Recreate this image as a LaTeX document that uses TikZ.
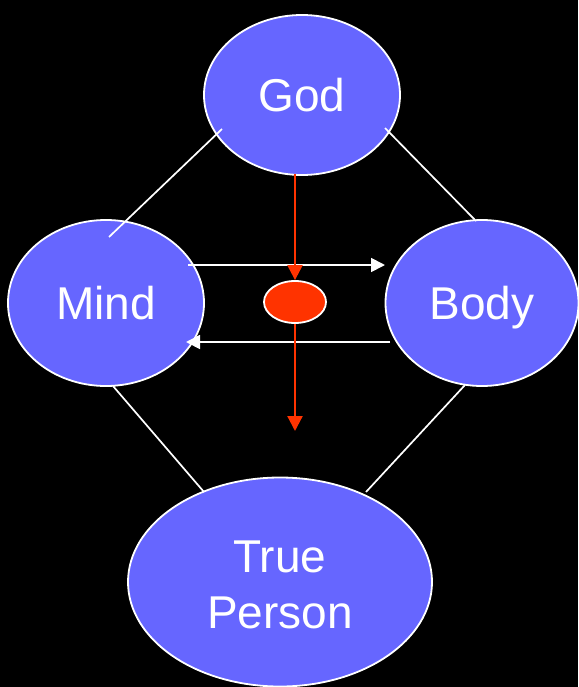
\documentclass[tikz,border=0pt]{standalone}
\usepackage{fontspec}
\setmainfont{Liberation Sans}
\usetikzlibrary{shapes.geometric,arrows.meta}
\definecolor{bluefill}{RGB}{102,102,255}
\definecolor{redfill}{RGB}{255,51,0}
\tikzset{
  bigell/.style={ellipse, draw=white, line width=1.8pt, fill=bluefill, inner sep=0pt,
    text=white, font=\fontsize{46}{56}\selectfont, align=center, text depth=0pt},
  redell/.style={ellipse, draw=white, line width=1.8pt, fill=redfill, inner sep=0pt,
    minimum width=62pt, minimum height=42pt},
  link/.style={draw=white, line width=1.7pt},
  warrow/.style={draw=white, line width=1.8pt, -{Triangle[length=14pt,width=14pt]}},
  rarrow/.style={draw=redfill, line width=2.2pt, -{Triangle[length=15pt,width=15pt]}}
}
\begin{document}
\begin{tikzpicture}[x=1pt,y=-1pt]
\fill[black] (0,0) rectangle (578,687);
\useasboundingbox (0,0) rectangle (578,687);
% connector coordinates
\coordinate (gm1) at (222,129);
\coordinate (gm2) at (109,237);
\coordinate (gb1) at (385,128);
\coordinate (gb2) at (476,221);
\coordinate (mt1) at (113,386);
\coordinate (mt2) at (204,492);
\coordinate (bt1) at (465,385);
\coordinate (bt2) at (366,492);
\coordinate (mb1) at (188,265);
\coordinate (mb2) at (385,265);
\coordinate (bm1) at (390,342);
\coordinate (bm2) at (186,342);
\coordinate (top) at (295,174);
\coordinate (low) at (295,431);
% nodes
\node[bigell, minimum width=196pt, minimum height=160pt] (god) at (302,95) {God};
\node[bigell, minimum width=196pt, minimum height=166pt] (mind) at (106,303) {Mind};
\node[bigell, minimum width=193pt, minimum height=166pt] (body) at (482,303) {Body};
\node[bigell, minimum width=304pt, minimum height=209pt] (tp) at (280,582) {\raisebox{35pt}{\begin{tabular}{@{}c@{}}True\\[0pt]Person\end{tabular}}};
\node[redell] (dot) at (295,302) {};
% connectors
\draw[link] (gm1) -- (gm2);
\draw[link] (gb1) -- (gb2);
\draw[link] (mt1) -- (mt2);
\draw[link] (bt1) -- (bt2);
\draw[warrow] (mb1) -- (mb2);
\draw[warrow] (bm1) -- (bm2);
\draw[rarrow] (top) -- (dot.north);
\draw[rarrow] (dot.south) -- (low);
\end{tikzpicture}
\end{document}
